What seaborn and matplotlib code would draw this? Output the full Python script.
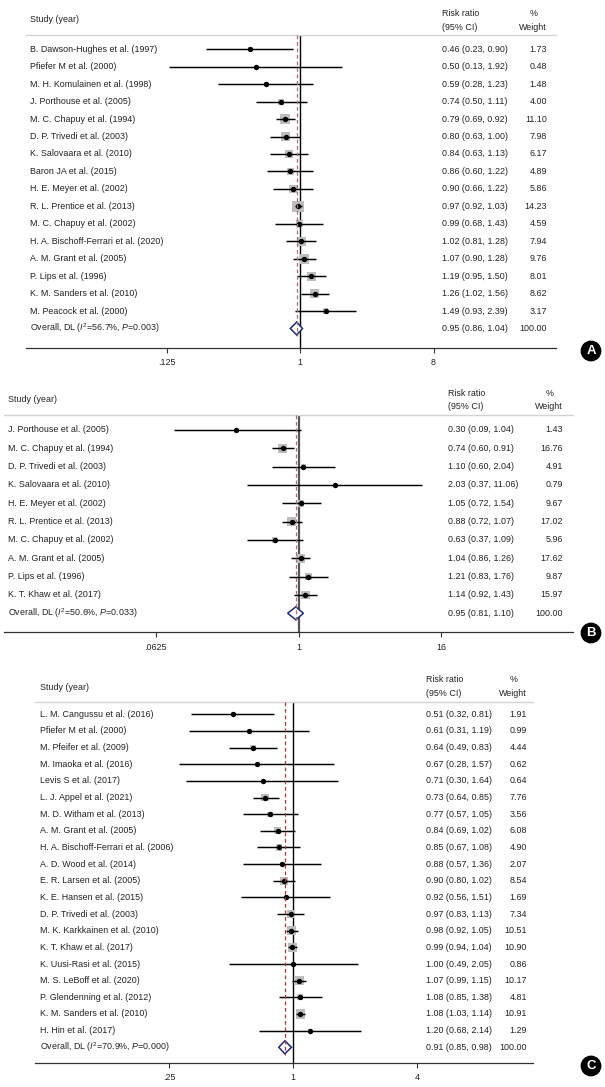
import numpy as np
import pandas as pd
import seaborn as sns
import matplotlib.pyplot as plt
from matplotlib.transforms import blended_transform_factory

sns.set_theme(style='white')
plt.rcParams['font.family'] = ['Liberation Sans', 'DejaVu Sans']
plt.rcParams['mathtext.fontset'] = 'custom'
plt.rcParams['mathtext.rm'] = 'Liberation Sans'
plt.rcParams['mathtext.it'] = 'Liberation Sans:italic'

# ---- data: panel A ----
studies_a = ["B. Dawson-Hughes et al. (1997)", "Pfiefer M et al. (2000)",
             "M. H. Komulainen et al. (1998)", "J. Porthouse et al. (2005)",
             "M. C. Chapuy et al. (1994)", "D. P. Trivedi et al. (2003)",
             "K. Salovaara et al. (2010)", "Baron JA et al. (2015)",
             "H. E. Meyer et al. (2002)", "R. L. Prentice et al. (2013)",
             "M. C. Chapuy et al. (2002)", "H. A. Bischoff-Ferrari et al. (2020)",
             "A. M. Grant et al. (2005)", "P. Lips et al. (1996)",
             "K. M. Sanders et al. (2010)", "M. Peacock et al. (2000)"]
rr_a = [0.46, 0.50, 0.59, 0.74, 0.79, 0.80, 0.84, 0.86, 0.90, 0.97, 0.99, 1.02, 1.07, 1.19, 1.26, 1.49]
lo_a = [0.23, 0.13, 0.28, 0.50, 0.69, 0.63, 0.63, 0.60, 0.66, 0.92, 0.68, 0.81, 0.90, 0.95, 1.02, 0.93]
hi_a = [0.90, 1.92, 1.23, 1.11, 0.92, 1.00, 1.13, 1.22, 1.22, 1.03, 1.43, 1.28, 1.28, 1.50, 1.56, 2.39]
wt_a = [1.73, 0.48, 1.48, 4.00, 11.10, 7.98, 6.17, 4.89, 5.86, 14.23, 4.59, 7.94, 9.76, 8.01, 8.62, 3.17]
overall_a = [0.95, 0.86, 1.04]
het_a = ["56.7%", "0.003"]
ticks_a = [0.125, 1, 8]
ticklabels_a = [".125", "1", "8"]

# ---- data: panel B ----
studies_b = ["J. Porthouse et al. (2005)", "M. C. Chapuy et al. (1994)",
             "D. P. Trivedi et al. (2003)", "K. Salovaara et al. (2010)",
             "H. E. Meyer et al. (2002)", "R. L. Prentice et al. (2013)",
             "M. C. Chapuy et al. (2002)", "A. M. Grant et al. (2005)",
             "P. Lips et al. (1996)", "K. T. Khaw et al. (2017)"]
rr_b = [0.30, 0.74, 1.10, 2.03, 1.05, 0.88, 0.63, 1.04, 1.21, 1.14]
lo_b = [0.09, 0.60, 0.60, 0.37, 0.72, 0.72, 0.37, 0.86, 0.83, 0.92]
hi_b = [1.04, 0.91, 2.04, 11.06, 1.54, 1.07, 1.09, 1.26, 1.76, 1.43]
wt_b = [1.43, 16.76, 4.91, 0.79, 9.67, 17.02, 5.96, 17.62, 9.87, 15.97]
overall_b = [0.95, 0.81, 1.10]
het_b = ["50.6%", "0.033"]
ticks_b = [0.0625, 1, 16]
ticklabels_b = [".0625", "1", "16"]

# ---- data: panel C ----
studies_c = ["L. M. Cangussu et al. (2016)", "Pfiefer M et al. (2000)",
             "M. Pfeifer et al. (2009)", "M. Imaoka et al. (2016)",
             "Levis S et al. (2017)", "L. J. Appel et al. (2021)",
             "M. D. Witham et al. (2013)", "A. M. Grant et al. (2005)",
             "H. A. Bischoff-Ferrari et al. (2006)", "A. D. Wood et al. (2014)",
             "E. R. Larsen et al. (2005)", "K. E. Hansen et al. (2015)",
             "D. P. Trivedi et al. (2003)", "M. K. Karkkainen et al. (2010)",
             "K. T. Khaw et al. (2017)", "K. Uusi-Rasi et al. (2015)",
             "M. S. LeBoff et al. (2020)", "P. Glendenning et al. (2012)",
             "K. M. Sanders et al. (2010)", "H. Hin et al. (2017)"]
rr_c = [0.51, 0.61, 0.64, 0.67, 0.71, 0.73, 0.77, 0.84, 0.85, 0.88, 0.90, 0.92, 0.97, 0.98, 0.99, 1.00, 1.07, 1.08, 1.08, 1.20]
lo_c = [0.32, 0.31, 0.49, 0.28, 0.30, 0.64, 0.57, 0.69, 0.67, 0.57, 0.80, 0.56, 0.83, 0.92, 0.94, 0.49, 0.99, 0.85, 1.03, 0.68]
hi_c = [0.81, 1.19, 0.83, 1.57, 1.64, 0.85, 1.05, 1.02, 1.08, 1.36, 1.02, 1.51, 1.13, 1.05, 1.04, 2.05, 1.15, 1.38, 1.14, 2.14]
wt_c = [1.91, 0.99, 4.44, 0.62, 0.64, 7.76, 3.56, 6.08, 4.90, 2.07, 8.54, 1.69, 7.34, 10.51, 10.90, 0.86, 10.17, 4.81, 10.91, 1.29]
overall_c = [0.91, 0.85, 0.98]
het_c = ["70.9%", "0.000"]
ticks_c = [0.25, 1, 4]
ticklabels_c = [".25", "1", "4"]

W, H = 605, 1087
FS = 6.4
fig = plt.figure(figsize=(W / 100, H / 100), dpi=100)


def panel(studies, rr, lo, hi, wt, overall, het, ticks, ticklabels, letter, g):
    df = pd.DataFrame({'study': studies, 'rr': rr, 'lo': lo, 'hi': hi, 'wt': wt})
    df['row'] = np.arange(len(df))
    n = len(df)

    ax = fig.add_axes([g['left'] / W, 1 - g['bottom'] / H,
                       (g['right'] - g['left']) / W, (g['bottom'] - g['top']) / H])
    ax.set_xscale('log', base=2)
    ax.set_xlim(2 ** ((g['left'] - g['x1']) / g['ppu']), 2 ** ((g['right'] - g['x1']) / g['ppu']))
    ytop = -(g['row0'] - g['top']) / g['step']
    ybot = (g['bottom'] - g['row0']) / g['step']
    ax.set_ylim(ybot, ytop)

    # CI lines, weight boxes, point estimates
    ax.hlines(df['row'], df['lo'], df['hi'], color='black', lw=1.05, zorder=3)
    k = (0.72 * g['box']) ** 2
    sns.scatterplot(data=df, x='rr', y='row', size='wt', sizes=(k * df['wt'].min(), k * df['wt'].max()),
                    size_norm=(df['wt'].min(), df['wt'].max()), marker='s', color='#bdbdbd',
                    linewidth=0, legend=False, ax=ax, zorder=2)
    sns.scatterplot(data=df, x='rr', y='row', s=15, color='black', linewidth=0,
                    legend=False, ax=ax, zorder=4)

    # reference lines
    ax.axvline(1, color=g['vcol'], lw=g['vlw'], zorder=1)
    ax.vlines(overall[0], ytop, n + 0.45, color=g['dcol'], lw=0.9, linestyles=(0, (3, 2.2)), zorder=6)

    # pooled diamond
    h = 6.5 / g['step']
    ax.fill([overall[1], overall[0], overall[2], overall[0]], [n, n - h, n, n + h],
            facecolor='white', edgecolor='#1f2a80', lw=1.1, zorder=5)

    ax.set_xticks(ticks)
    ax.set_xticklabels(ticklabels)
    ax.xaxis.set_minor_locator(plt.NullLocator())
    ax.set_yticks([])
    ax.set_xlabel('')
    ax.set_ylabel('')
    ax.tick_params(axis='x', bottom=True, length=3.8, width=0.8, color='#333333',
                   labelsize=FS, pad=4, labelcolor='#222222')
    for s in ['left', 'right']:
        ax.spines[s].set_visible(False)
    ax.spines['top'].set_color('#d4d4d4')
    ax.spines['top'].set_linewidth(1.0)
    ax.spines['bottom'].set_color('#333333')
    ax.spines['bottom'].set_linewidth(0.9)

    # text columns
    tr = blended_transform_factory(fig.transFigure, ax.transData)
    labels = list(df['study']) + ["Overall, DL ($\\mathit{I}^2$=%s, $\\mathit{P}$=%s)" % (het[0], het[1])]
    ests = ["%.2f (%.2f, %.2f)" % (a, b, c) for a, b, c in zip(rr, lo, hi)] + \
           ["%.2f (%.2f, %.2f)" % tuple(overall)]
    wts = ["%.2f" % v for v in wt] + ["100.00"]
    for i in range(n + 1):
        ax.text(g['tx'] / W, i, labels[i], transform=tr, ha='left', va='center', fontsize=FS, color='#222222')
        ax.text(g['ex'] / W, i, ests[i], transform=tr, ha='left', va='center', fontsize=FS, color='#222222')
        ax.text(g['wx'] / W, i, wts[i], transform=tr, ha='right', va='center', fontsize=FS, color='#222222')

    # header
    top = g['top']
    fig.text(g['tx'] / W, 1 - (top - 15) / H, "Study (year)", ha='left', va='center', fontsize=FS, color='#222222')
    fig.text(g['ex'] / W, 1 - (top - 22) / H, "Risk ratio", ha='left', va='center', fontsize=FS, color='#222222')
    fig.text(g['ex'] / W, 1 - (top - 8) / H, "(95% CI)", ha='left', va='center', fontsize=FS, color='#222222')
    fig.text((g['wx'] - 13) / W, 1 - (top - 22) / H, "%", ha='center', va='center', fontsize=FS, color='#222222')
    fig.text(g['wx'] / W, 1 - (top - 8) / H, "Weight", ha='right', va='center', fontsize=FS, color='#222222')

    # panel badge
    fig.text(591 / W, 1 - g['badge'] / H, letter, ha='center', va='center', color='white',
             fontsize=9.5, fontweight='bold',
             bbox=dict(boxstyle='circle,pad=0.28', fc='black', ec='black'))


geo_a = dict(left=26, right=556, top=35, bottom=347.5, x1=300, ppu=44.5, row0=49.3, step=17.45,
             tx=30, ex=442, wx=547, badge=351, box=3.1, vcol='black', vlw=1.0, dcol='#b06a78')
geo_b = dict(left=4, right=573, top=415, bottom=632, x1=298.5, ppu=35.7, row0=430, step=18.33,
             tx=8.5, ex=448, wx=563, badge=633, box=2.2, vcol='#555555', vlw=1.6, dcol='#b06a78')
geo_c = dict(left=35, right=533, top=702, bottom=1062.5, x1=293.3, ppu=62, row0=714.3, step=16.65,
             tx=40, ex=426, wx=527, badge=1066, box=2.75, vcol='black', vlw=1.0, dcol='#b03a3a')

panel(studies_a, rr_a, lo_a, hi_a, wt_a, overall_a, het_a, ticks_a, ticklabels_a, 'A', geo_a)
panel(studies_b, rr_b, lo_b, hi_b, wt_b, overall_b, het_b, ticks_b, ticklabels_b, 'B', geo_b)
panel(studies_c, rr_c, lo_c, hi_c, wt_c, overall_c, het_c, ticks_c, ticklabels_c, 'C', geo_c)

fig.savefig('out.png', dpi=100, facecolor='white')
